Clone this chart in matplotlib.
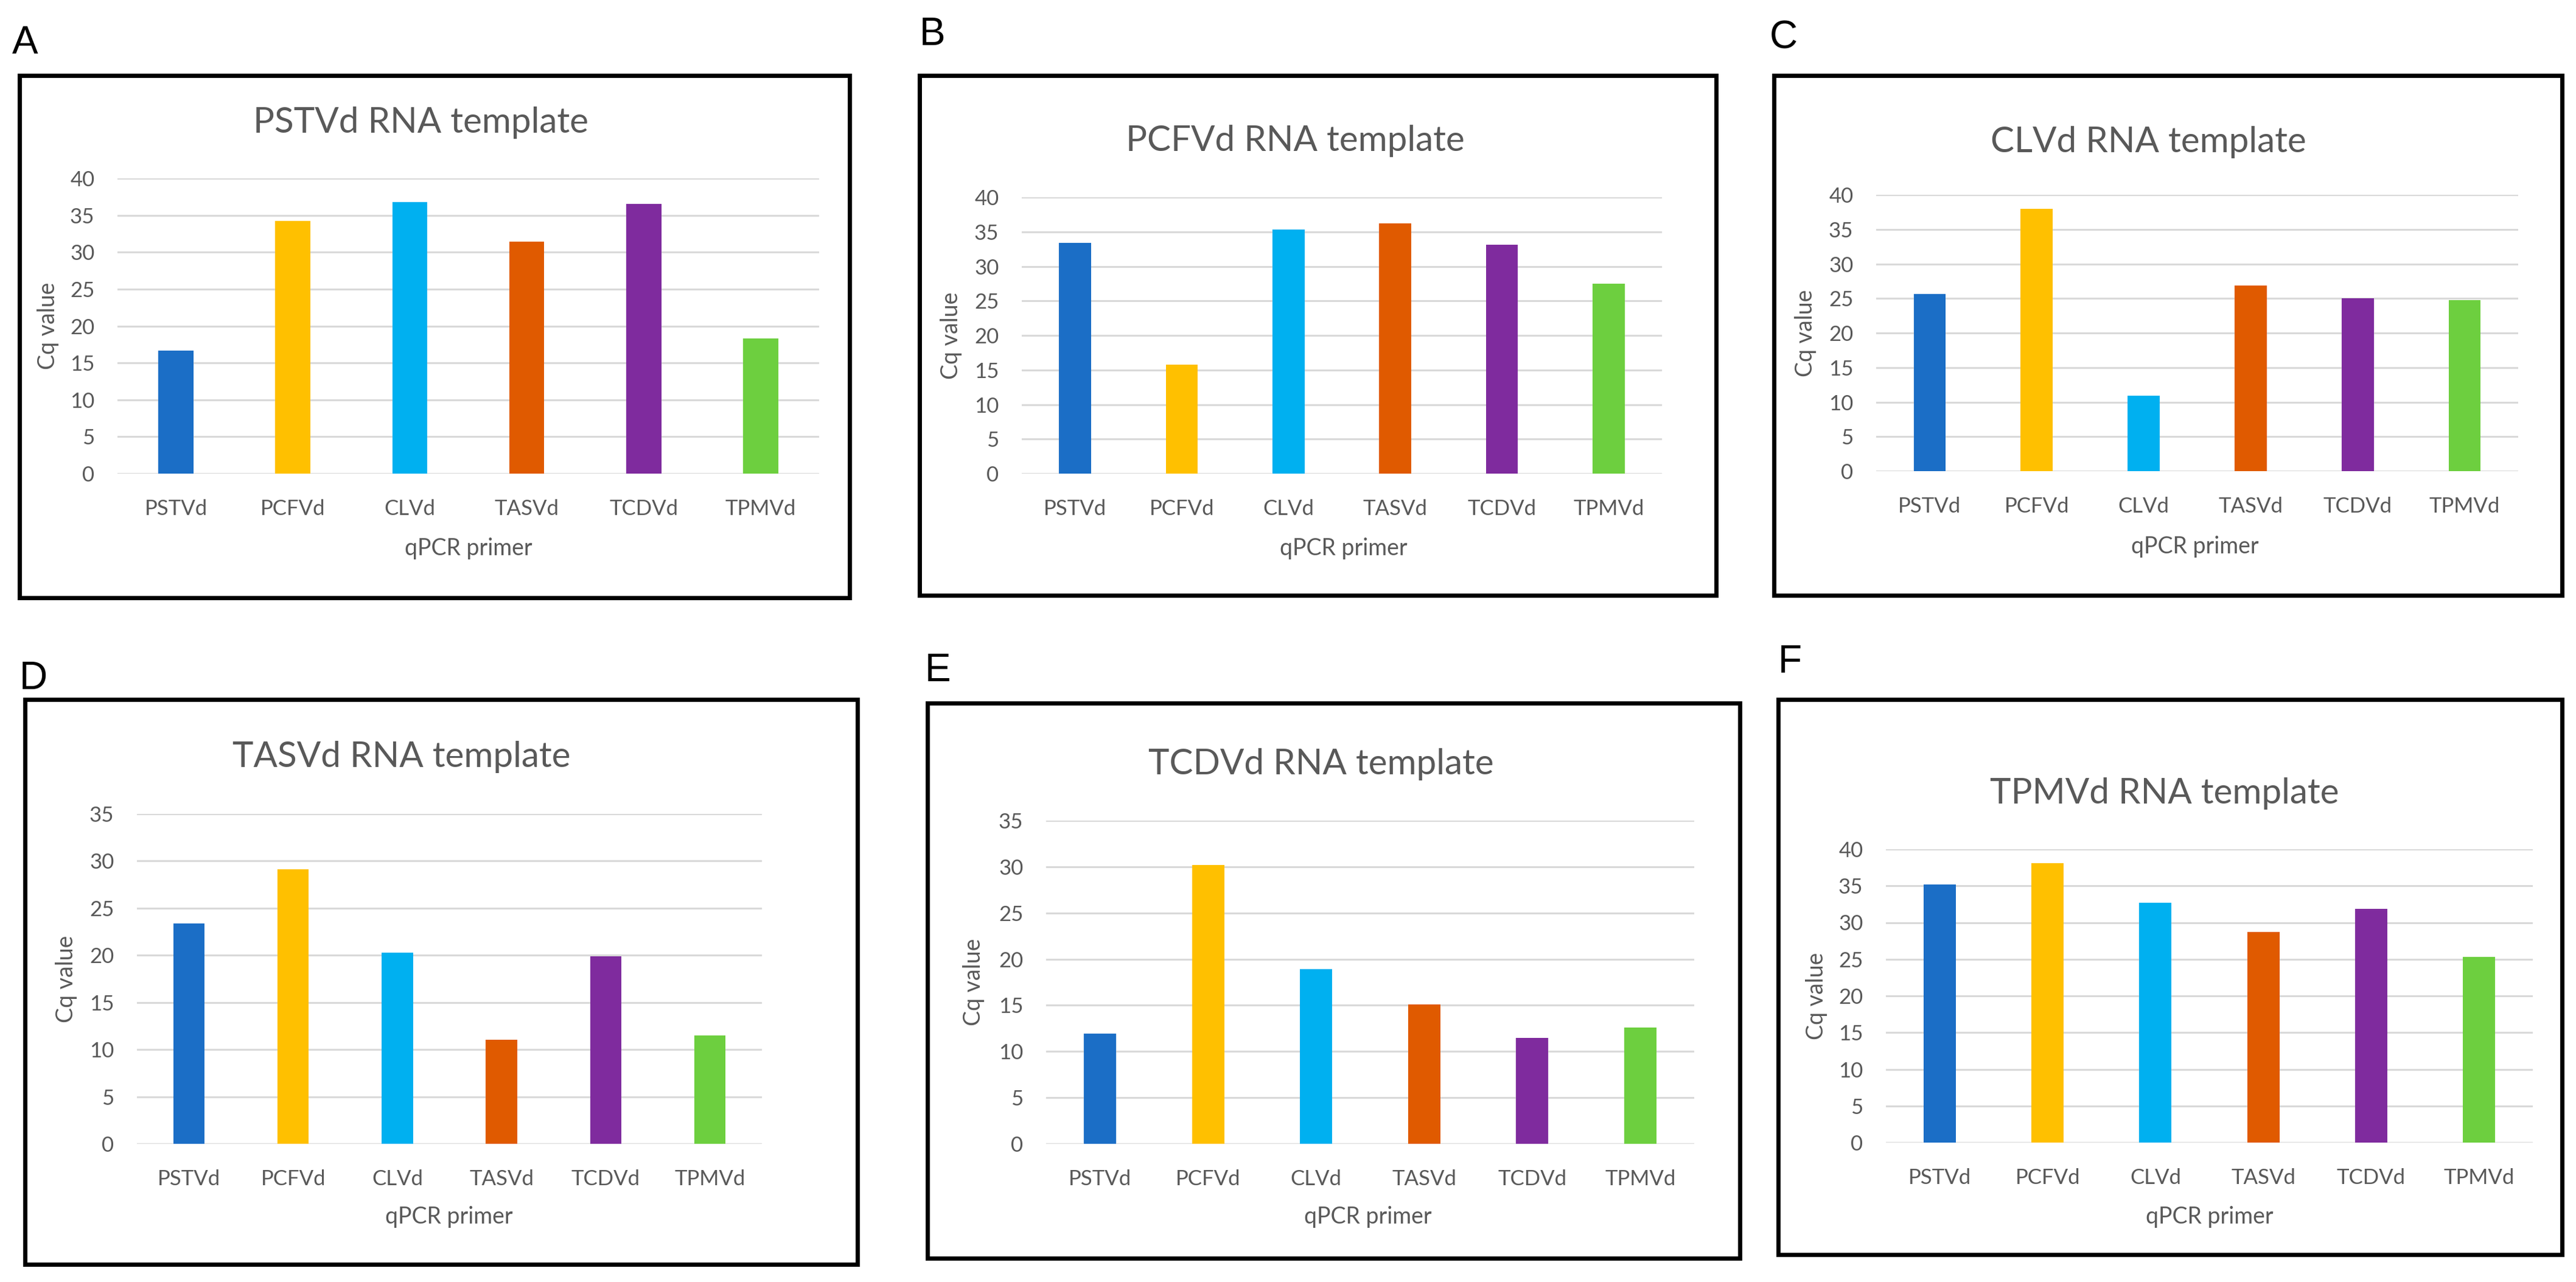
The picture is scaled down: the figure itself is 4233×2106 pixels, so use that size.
import matplotlib
matplotlib.use("Agg")
import matplotlib.pyplot as plt
from matplotlib.patches import Rectangle
import numpy as np

# qPCR primers (x axis) and templates (one panel each)
primers = ["PSTVd", "PCFVd", "CLVd", "TASVd", "TCDVd", "TPMVd"]
templates = ["PSTVd", "PCFVd", "CLVd", "TASVd", "TCDVd", "TPMVd"]
panel_letters = ["A", "B", "C", "D", "E", "F"]

# Cq values
cq_pstvd = [16.7, 34.2, 36.8, 31.4, 36.5, 18.35]
cq_pcfvd = [33.4, 15.8, 35.3, 36.2, 33.1, 27.5]
cq_clvd = [25.6, 38.0, 10.9, 26.85, 25.05, 24.8]
cq_tasvd = [23.35, 29.1, 20.3, 11.05, 19.9, 11.5]
cq_tcdvd = [11.95, 30.2, 18.9, 15.1, 11.5, 12.6]
cq_tpmvd = [35.2, 38.1, 32.7, 28.7, 31.9, 25.3]
cq_all = [cq_pstvd, cq_pcfvd, cq_clvd, cq_tasvd, cq_tcdvd, cq_tpmvd]
y_max = [40, 40, 40, 35, 35, 40]

bar_colors = ["#1B6EC6", "#FFC000", "#00B0F0", "#E05A00", "#7F2B9E", "#6DCF3F"]

W, H = 4233, 2106
GREY = "#595959"
FONT = "Lato"

# layout in pixels: box (l, t, r, b), letter (x, top), title (x, y),
# plot area (left, right, y_zero, y_top), ylabel x, xlabel (x, y)
layout = [
    dict(box=(32, 124, 1396, 982), letter=(20, 41), title=(691, 201),
         plot=(193, 1346, 778, 293), ylab=79, xlab=(770, 901)),
    dict(box=(1511, 124, 2820, 978), letter=(1511, 27), title=(2128, 231),
         plot=(1679, 2731, 778, 324), ylab=1563, xlab=(2208, 901)),
    dict(box=(2915, 124, 4210, 978), letter=(2908, 32), title=(3530, 234),
         plot=(3083, 4138, 774, 320), ylab=2967, xlab=(3607, 898)),
    dict(box=(41, 1149, 1409, 2077), letter=(32, 1085), title=(660, 1244),
         plot=(225, 1252, 1879, 1337), ylab=109, xlab=(738, 1999)),
    dict(box=(1524, 1155, 2859, 2067), letter=(1520, 1072), title=(2171, 1255),
         plot=(1719, 2784, 1879, 1348), ylab=1600, xlab=(2248, 1999)),
    dict(box=(2922, 1149, 4210, 2061), letter=(2922, 1058), title=(3557, 1303),
         plot=(3099, 4162, 1877, 1395), ylab=2985, xlab=(3631, 1999)),
]


def fx(x):
    return x / W


def fy(y):
    return 1 - y / H


fig = plt.figure(figsize=(W / 100, H / 100), dpi=100)
fig.patch.set_facecolor("white")

for i in range(6):
    lay = layout[i]
    l, r, y0, yt = lay["plot"]
    ax = fig.add_axes([fx(l), fy(y0), (r - l) / W, (y0 - yt) / H])
    x = np.arange(len(primers))
    ax.bar(x, cq_all[i], width=0.3, color=bar_colors, zorder=3)
    ax.set_xlim(-0.5, len(primers) - 0.5)
    ax.set_ylim(0, y_max[i])
    ax.set_yticks(np.arange(0, y_max[i] + 1, 5))
    ax.set_xticks(x)
    ax.set_xticklabels(primers)
    ax.grid(axis="y", color="#D9D9D9", linewidth=2.2, zorder=0)
    for s in ax.spines.values():
        s.set_visible(False)
    ax.tick_params(axis="both", length=0, colors=GREY, labelsize=25)
    ax.tick_params(axis="y", pad=27)
    ax.tick_params(axis="x", pad=30)
    for t in ax.get_xticklabels() + ax.get_yticklabels():
        t.set_fontfamily(FONT)
    ax.set_facecolor("none")

    # y label
    fig.text(fx(lay["ylab"]), fy((y0 + yt) / 2), "Cq value", rotation=90,
             ha="center", va="center", fontsize=27, color=GREY, family=FONT)
    # x label
    fig.text(fx(lay["xlab"][0]), fy(lay["xlab"][1]), "qPCR primer",
             ha="center", va="center", fontsize=27, color=GREY, family=FONT)
    # title
    fig.text(fx(lay["title"][0]), fy(lay["title"][1]),
             templates[i] + " RNA template", ha="center", va="center",
             fontsize=42, color=GREY, family=FONT)
    # frame around the chart
    bl, bt, br, bb = lay["box"]
    fig.add_artist(Rectangle((fx(bl), fy(bb)), (br - bl) / W, (bb - bt) / H,
                             transform=fig.transFigure, fill=False,
                             edgecolor="black", linewidth=5))
    # panel letter
    fig.text(fx(lay["letter"][0]), fy(lay["letter"][1]), panel_letters[i],
             ha="left", va="top", fontsize=46, color="black",
             family="Liberation Sans")

fig.savefig("out.png", dpi=100, facecolor="white")
